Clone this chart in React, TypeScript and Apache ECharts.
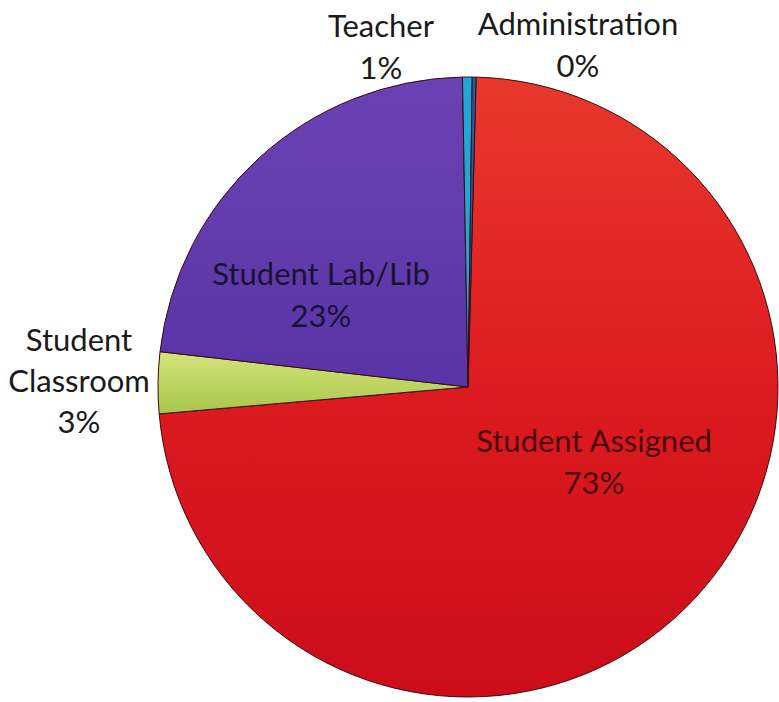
import React, { useEffect, useRef } from "react";
import * as echarts from "echarts";

const categories = ["Student Assigned", "Student Classroom", "Student Lab/Lib", "Teacher", "Administration"];
const values = [73.2, 3.2, 22.9, 0.5, 0.2];
const colors = ["#d9161c", "#b4cf55", "#5e37aa", "#22a6d6", "#1d5ea8"];
const labelColors = ["#4a0a0a", "#1a1a1a", "#1a1233", "#1a1a1a", "#1a1a1a"];
// label anchor positions (layout only)
const labelPos: [number, number][] = [
  [594, 461],
  [79, 380],
  [321, 294],
  [381, 46],
  [578, 44],
];

export default function App() {
  const ref = useRef<HTMLDivElement>(null);
  useEffect(() => {
    if (!ref.current) return;
    const chart = echarts.init(ref.current, null, { renderer: "svg" });
    const fills = [
      new echarts.graphic.LinearGradient(0, 0, 0, 1, [
        { offset: 0, color: "#e8382c" },
        { offset: 0.5, color: "#dc1b20" },
        { offset: 1, color: "#cc0c1a" },
      ]),
      new echarts.graphic.LinearGradient(0, 0, 0, 1, [
        { offset: 0, color: "#d4e47c" },
        { offset: 1, color: "#a8c648" },
      ]),
      new echarts.graphic.LinearGradient(0, 0, 0, 1, [
        { offset: 0, color: "#6a42b4" },
        { offset: 1, color: "#5a34a6" },
      ]),
      colors[3],
      colors[4],
    ];
    chart.setOption({
      animation: false,
      backgroundColor: "#ffffff",
      series: [
        {
          type: "pie",
          center: [468, 387],
          radius: [0, 310],
          startAngle: 88.5,
          clockwise: true,
          percentPrecision: 0,
          minAngle: 0,
          avoidLabelOverlap: false,
          itemStyle: { borderColor: "#3a0a10", borderWidth: 1 },
          label: {
            show: true,
            formatter: "{b}\n{d}%",
            fontFamily: "Lato, 'Liberation Sans', sans-serif",
            fontSize: 31,
            lineHeight: 42,
            align: "center",
          },
          labelLine: { show: false },
          labelLayout: (params: any) => {
            const p = labelPos[params.dataIndex];
            return { x: p[0], y: p[1], align: "center", verticalAlign: "middle" };
          },
          data: categories.map((name, i) => ({
            name,
            value: values[i],
            itemStyle: { color: fills[i] },
            label: {
              color: labelColors[i],
              formatter: i === 1 ? "Student\nClassroom\n{d}%" : "{b}\n{d}%",
              lineHeight: i === 1 ? 41 : 42,
              position: i === 0 || i === 2 ? "inside" : "outside",
            },
          })),
        },
      ],
    });
    return () => chart.dispose();
  }, []);
  return (
    <div
      ref={ref}
      style={{ position: "fixed", left: 0, top: 0, width: 779, height: 702 }}
    />
  );
}
